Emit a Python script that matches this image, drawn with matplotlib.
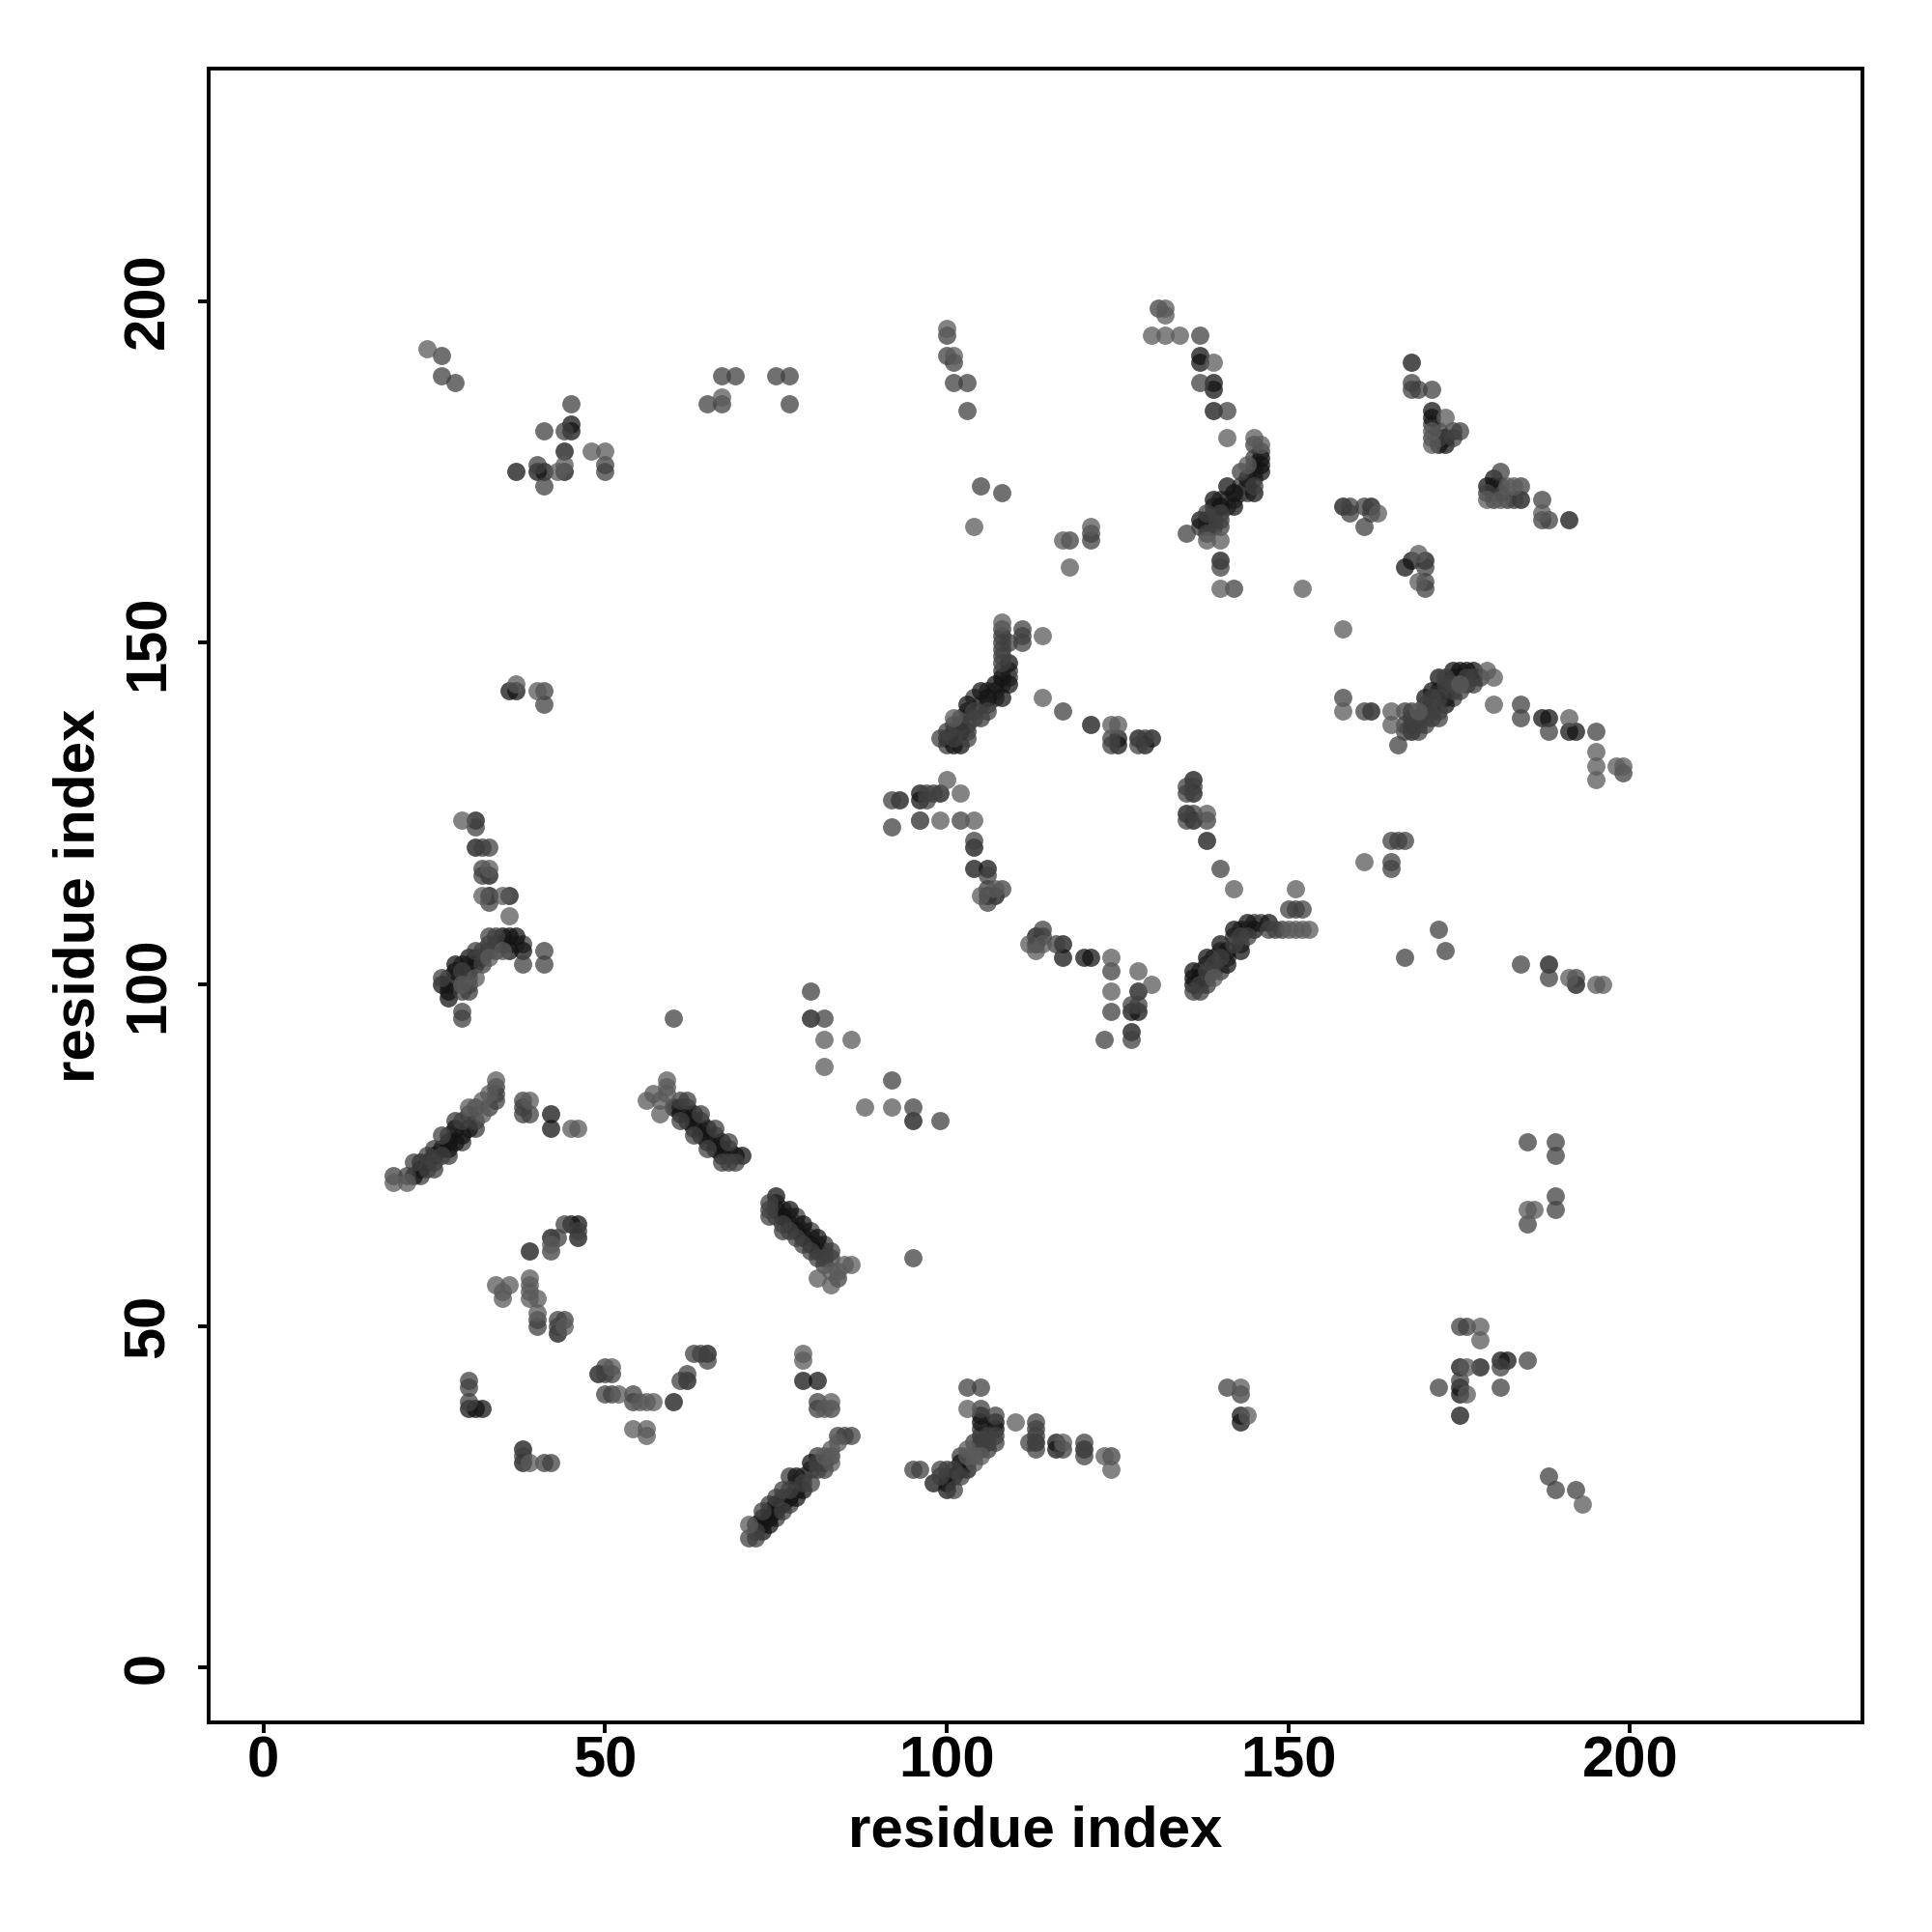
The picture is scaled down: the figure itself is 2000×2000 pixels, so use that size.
import matplotlib
matplotlib.use('Agg')
import matplotlib.pyplot as plt
import numpy as np

plt.rcParams['font.family'] = ['Liberation Sans', 'DejaVu Sans']

# residue pairs, one list per shade of grey
dark_points = [
    (37, 175), (40, 175), (41, 175), (44, 175), (45, 181), (45, 182), (44, 178),
    (36, 143), (37, 143), (33, 116), (33, 113), (36, 113), (31, 124), (31, 120),
    (35, 107), (36, 107), (37, 107), (38, 105), (36, 105), (27, 99), (27, 98),
    (28, 102), (28, 103), (30, 104), (30, 102), (31, 103), (26, 100),
    (22, 72), (23, 73), (23, 74), (25, 75), (26, 76), (27, 76), (27, 77), (28, 79),
    (28, 77), (29, 78), (30, 79), (42, 81), (42, 79),
    (60, 82), (61, 81), (62, 80), (63, 79), (64, 78), (65, 77), (66, 76), (67, 75),
    (69, 75), (70, 75), (63, 81), (65, 79), (67, 77),
    (75, 69), (75, 67), (76, 66), (77, 65), (78, 64), (79, 63), (80, 62), (81, 61),
    (77, 67), (79, 65), (81, 63),
    (45, 65), (46, 65), (46, 63), (42, 63), (39, 61), (43, 49), (38, 32), (38, 30),
    (30, 38), (31, 38), (32, 38), (49, 43), (60, 39), (62, 42), (65, 46),
    (79, 42), (81, 42), (72, 21), (73, 20), (73, 22), (74, 21), (74, 22), (75, 24),
    (75, 23), (76, 24), (77, 25), (78, 25), (78, 28), (79, 26), (80, 30),
    (98, 27), (100, 27), (100, 26), (101, 28), (102, 30), (103, 29), (105, 37),
    (105, 36), (107, 36), (107, 35), (113, 33), (116, 33), (116, 32), (120, 32),
    (143, 37), (143, 36), (175, 44), (178, 44), (182, 45), (181, 45), (175, 41),
    (175, 40), (175, 37), (95, 80), (80, 95),
    (109, 147), (108, 145), (109, 144), (108, 142), (107, 144), (105, 143),
    (106, 142), (103, 141), (102, 137), (100, 136), (101, 135), (102, 135),
    (121, 138), (125, 136), (125, 135), (128, 136), (130, 136), (129, 135),
    (137, 192), (137, 191), (139, 188), (139, 187), (139, 184),
    (146, 177), (146, 176), (146, 175), (145, 172), (144, 174), (142, 170),
    (141, 173), (142, 172), (139, 171), (140, 170), (137, 168), (140, 162),
    (96, 128), (96, 127), (99, 128), (93, 127), (104, 120), (104, 117), (106, 117),
    (106, 113), (107, 113), (113, 107), (113, 106), (117, 106), (117, 104),
    (120, 104), (121, 104), (128, 99), (128, 96), (127, 96), (127, 93),
    (136, 130), (136, 128), (135, 125), (136, 124), (138, 121),
    (147, 109), (145, 108), (144, 109), (142, 108), (140, 106), (141, 105),
    (143, 105), (138, 104), (141, 103), (136, 102), (137, 101), (136, 101), (136, 100),
    (171, 184), (171, 183), (172, 179), (173, 180), (173, 179), (168, 191),
    (180, 174), (179, 173), (184, 171), (191, 168), (162, 170), (158, 170),
    (168, 162), (170, 162), (167, 161), (162, 140), (172, 145), (171, 143), (173, 143),
    (170, 142), (173, 141), (168, 138), (168, 137), (187, 139), (188, 139), (191, 137),
    (192, 137), (174, 146), (175, 146), (176, 146), (177, 146), (192, 100), (188, 103),
]

mid_points = [
    (26, 192), (26, 189), (28, 188), (45, 185), (41, 181), (44, 181), (40, 176),
    (41, 173), (50, 176), (50, 175), (67, 189), (69, 189), (75, 189), (77, 189),
    (65, 185), (67, 185), (77, 185), (41, 143), (41, 141), (31, 123), (32, 120),
    (33, 120), (32, 117), (32, 116), (33, 112), (33, 107), (41, 105), (38, 103),
    (41, 103), (26, 101), (29, 99), (29, 96), (29, 95), (30, 100), (31, 105),
    (32, 105), (32, 103), (33, 106), (34, 107), (29, 102),
    (19, 72), (21, 72), (22, 74), (24, 73), (24, 75), (25, 74), (26, 75), (26, 78),
    (29, 80), (31, 80), (34, 83), (34, 84), (34, 85), (38, 83), (38, 82), (38, 81),
    (39, 81), (61, 83), (62, 83), (64, 81), (66, 79), (68, 77), (61, 80), (63, 78),
    (65, 76), (67, 74), (68, 74), (69, 74), (74, 68), (74, 67), (74, 66), (76, 65),
    (77, 64), (78, 63), (79, 62), (80, 61), (81, 60), (82, 59), (82, 60), (83, 61),
    (83, 60), (84, 57), (44, 65), (46, 64), (43, 63), (42, 61), (40, 51), (40, 50),
    (43, 51), (44, 51), (43, 50), (30, 42), (30, 41), (30, 39), (38, 31), (41, 30),
    (42, 30), (50, 43), (50, 44), (51, 43), (50, 40), (51, 40), (54, 39), (54, 40),
    (61, 42), (62, 43), (63, 46), (64, 46), (65, 45), (81, 39), (81, 38), (83, 38),
    (84, 34), (85, 34), (86, 34), (71, 19), (72, 19), (72, 20), (73, 23), (75, 25),
    (76, 23), (76, 26), (77, 26), (79, 27), (80, 27), (81, 30), (81, 29), (82, 29),
    (95, 29), (96, 29), (99, 29), (99, 28), (101, 26), (101, 29), (102, 28),
    (105, 32), (106, 33), (106, 34), (107, 33), (107, 34), (103, 41), (105, 41),
    (105, 38), (107, 37), (113, 36), (113, 35), (113, 34), (112, 33), (113, 32),
    (117, 32), (120, 33), (120, 31), (124, 31), (141, 41), (143, 40), (175, 50),
    (176, 50), (181, 44), (185, 45), (181, 41), (172, 41), (175, 42), (188, 28),
    (189, 26), (192, 26), (185, 77), (189, 77), (189, 75), (189, 69), (189, 67),
    (185, 65), (95, 60), (92, 86), (95, 82), (99, 80), (60, 95), (80, 99), (82, 95),
    (100, 195), (100, 192), (101, 191), (101, 188), (103, 188), (103, 184),
    (105, 173), (108, 172), (118, 165), (121, 166), (121, 165),
    (131, 199), (137, 195), (137, 188), (141, 184), (145, 179), (143, 175),
    (145, 173), (140, 169), (138, 169), (140, 167), (138, 166), (135, 166),
    (140, 161), (142, 158), (108, 152), (108, 151), (108, 150), (108, 149),
    (108, 148), (108, 147), (109, 150), (111, 152), (111, 151), (111, 150),
    (106, 140), (104, 139), (104, 140), (103, 136), (101, 136), (100, 137), (99, 136),
    (102, 138), (117, 140), (124, 136), (124, 135), (128, 135), (129, 136),
    (92, 127), (97, 128), (97, 127), (98, 128), (92, 123), (96, 124), (102, 124),
    (104, 121), (106, 116), (106, 114), (108, 114), (106, 112), (114, 108),
    (114, 107), (116, 106), (124, 102), (128, 97), (127, 97), (124, 96), (127, 92),
    (123, 92), (135, 129), (136, 129), (135, 128), (136, 125), (135, 124),
    (138, 124), (140, 117), (150, 111), (151, 111), (152, 111), (149, 108),
    (148, 108), (147, 108), (144, 107), (143, 107), (142, 106), (140, 104),
    (139, 103), (138, 102), (136, 99), (137, 100),
    (168, 188), (168, 187), (169, 187), (171, 187), (171, 180), (172, 180),
    (174, 180), (174, 181), (175, 181), (181, 175), (179, 172), (183, 171),
    (184, 173), (187, 171), (187, 168), (188, 168), (159, 170), (159, 169),
    (162, 169), (161, 170), (161, 167), (170, 161), (170, 159), (170, 158),
    (158, 142), (161, 140), (166, 135), (184, 141), (184, 139), (188, 137),
    (195, 137), (199, 131), (172, 142), (171, 142), (170, 141), (167, 140),
    (168, 140), (172, 140), (170, 139), (171, 139), (172, 139), (168, 139),
    (167, 138), (169, 138), (170, 138), (167, 137), (169, 137), (173, 145),
    (176, 145), (177, 145), (173, 144), (174, 144), (174, 143), (175, 143),
    (165, 121), (166, 121), (167, 121), (165, 118), (165, 117), (172, 108), (173, 105),
    (167, 104), (184, 103), (188, 101), (192, 101),
]

# the second rows of the dense diagonal bands
band_points = [
    (23, 72), (25, 73), (27, 75), (29, 77), (31, 79), (33, 82), (27, 78), (28, 80),
    (30, 81), (31, 82), (25, 76), (24, 74), (73, 21), (74, 23), (75, 22), (76, 25),
    (77, 24), (78, 27), (79, 28), (80, 29), (78, 26), (77, 28), (74, 24), (82, 30),
    (83, 31), (81, 31), (62, 82), (64, 80), (66, 78), (68, 76), (61, 82), (62, 81),
    (63, 80), (64, 79), (65, 78), (66, 77), (67, 76), (68, 75), (75, 68), (76, 67),
    (78, 66), (80, 64), (82, 62), (75, 66), (76, 64), (77, 66), (78, 65), (79, 64),
    (80, 63), (81, 62), (82, 61), (103, 140), (105, 141), (104, 142), (106, 143),
    (107, 143), (107, 142), (105, 139), (103, 138), (103, 137), (106, 141), (108, 144),
    (108, 146), (109, 146), (109, 145), (102, 139), (101, 137), (101, 138), (100, 135),
    (137, 102), (138, 103), (139, 104), (139, 102), (140, 105), (141, 104), (142, 107),
    (143, 106), (143, 108), (144, 108), (145, 109), (146, 109), (140, 102), (138, 100),
    (137, 99), (138, 101), (141, 170), (141, 171), (142, 171), (143, 172), (143, 173),
    (144, 173), (144, 172), (145, 174), (145, 175), (145, 176), (139, 170), (139, 169),
    (140, 171), (138, 168), (138, 167), (137, 167), (139, 168), (139, 167), (140, 168),
    (146, 178), (145, 177), (171, 141), (171, 140), (170, 140), (169, 139), (172, 143),
    (173, 142), (174, 142), (175, 145), (174, 145), (176, 144), (177, 144), (178, 145),
    (30, 103), (31, 104), (32, 104), (33, 105), (34, 106), (34, 105), (30, 101),
    (28, 101), (27, 101), (27, 100), (28, 100), (29, 103), (36, 106), (37, 106),
    (38, 106), (35, 106), (30, 99), (103, 30), (104, 33), (105, 33), (106, 32),
    (102, 29), (102, 31), (100, 29), (100, 28), (105, 35), (105, 34), (171, 182),
    (172, 181), (180, 173), (180, 172), (180, 171), (181, 173), (182, 171), (181, 172),
]

light_points = [
    (24, 193), (43, 175), (44, 176), (48, 178), (50, 178), (67, 186), (37, 144),
    (40, 143), (29, 124), (33, 117), (32, 113), (35, 113), (36, 110), (35, 105),
    (29, 100), (31, 101), (33, 104), (19, 71), (21, 71), (30, 82), (32, 81),
    (32, 83), (33, 84), (34, 86), (39, 83), (45, 79), (46, 79), (56, 83), (57, 84),
    (58, 83), (58, 81), (59, 84), (59, 86), (59, 85), (85, 59), (86, 59), (81, 57),
    (83, 58), (84, 58), (83, 56), (34, 56), (36, 56), (35, 55), (35, 54), (39, 57),
    (39, 56), (39, 55), (39, 54), (40, 54), (40, 52), (44, 50), (42, 62), (39, 30),
    (51, 44), (52, 40), (55, 39), (56, 39), (57, 39), (54, 35), (56, 35), (56, 34),
    (79, 46), (79, 45), (82, 38), (83, 39), (71, 21), (82, 31), (83, 30), (83, 32),
    (84, 33), (103, 31), (103, 32), (104, 30), (104, 31), (105, 31), (103, 38),
    (110, 36), (117, 33), (123, 31), (124, 29), (143, 41), (144, 37), (178, 50),
    (178, 48), (176, 44), (176, 40), (193, 24), (185, 67), (186, 67), (88, 82),
    (92, 82), (82, 92), (86, 92), (82, 88),
    (100, 196), (101, 192), (104, 167), (117, 165), (121, 167), (118, 161),
    (132, 199), (132, 198), (130, 195), (132, 195), (134, 195), (139, 191),
    (141, 180), (145, 180), (146, 179), (144, 176), (138, 165), (140, 165),
    (140, 158), (152, 158), (108, 153), (114, 151), (101, 139), (114, 142),
    (124, 138), (125, 138), (100, 130), (102, 128), (96, 124), (99, 124),
    (104, 124), (107, 114), (105, 113), (112, 106), (114, 106), (113, 105),
    (124, 104), (128, 102), (130, 100), (124, 99), (138, 125), (142, 114),
    (151, 114), (153, 108), (152, 108), (151, 108), (150, 108), (139, 101),
    (171, 181), (171, 179), (173, 183), (179, 171), (181, 171), (182, 173),
    (183, 173), (187, 169), (163, 169), (169, 163), (169, 159), (158, 152),
    (158, 140), (165, 140), (165, 138), (179, 146), (180, 145), (180, 141),
    (191, 139), (195, 134), (195, 132), (195, 130), (198, 132), (199, 132),
    (175, 144), (169, 140), (161, 118), (191, 101), (195, 100), (196, 100),
]

# shade, drawn in this order
groups = [
    (band_points, '#3b3b3b'),
    (dark_points, '#141414'),
    (mid_points, '#404040'),
    (light_points, '#5a5a5a'),
]

ticks = [0, 50, 100, 150, 200]

fig = plt.figure(figsize=(10, 10), dpi=200)
ax = fig.add_axes([216 / 2000, 1 - 1783 / 2000, 1712 / 2000, 1712 / 2000])

for points, color in groups:
    pts = np.array(points)
    ax.scatter(pts[:, 0], pts[:, 1], s=46, c=color, alpha=0.75, linewidths=0)

ax.set_xlim(-8, 234)
ax.set_ylim(-8, 234)
ax.set_xticks(ticks)
ax.set_yticks(ticks)
for side in ax.spines.values():
    side.set_linewidth(1.4)

ax.tick_params(axis='x', length=4, width=1.4, labelsize=21.5, pad=1)
ax.tick_params(axis='y', length=4, width=1.4, labelsize=21.5, pad=8.5)
for lab in ax.get_xticklabels():
    lab.set_fontweight('bold')
for lab in ax.get_yticklabels():
    lab.set_fontweight('bold')
    lab.set_rotation(90)
    lab.set_va('center')

fig.text(1072 / 2000, 1 - 1896 / 2000, 'residue index', fontsize=21.6, fontweight='bold',
         ha='center', va='center')
fig.text(82 / 2000, 1 - 927 / 2000, 'residue index', fontsize=21.6, fontweight='bold',
         ha='center', va='center', rotation=90)

fig.savefig('out.png', dpi=200)
